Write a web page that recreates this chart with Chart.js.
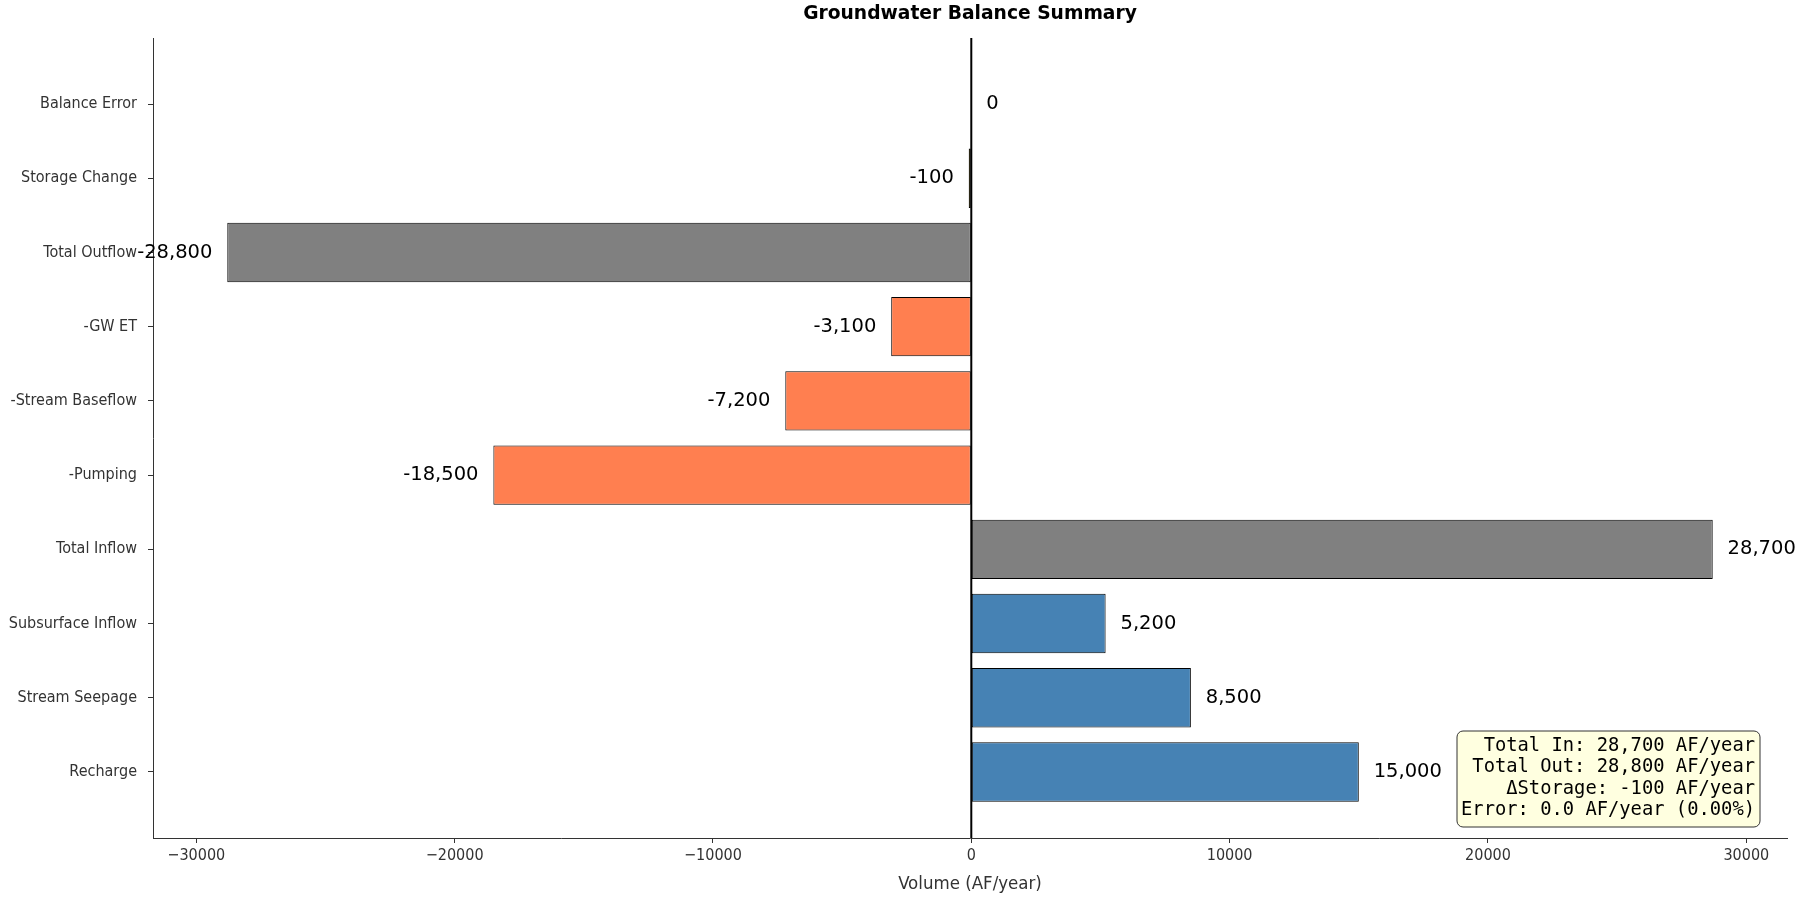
<!DOCTYPE html>
<html>
<head>
<meta charset="utf-8">
<title>Groundwater Balance Summary</title>
<script src="https://cdn.jsdelivr.net/npm/chart.js@4.4.1/dist/chart.umd.min.js"></script>
<style>
  html, body { margin: 0; padding: 0; background: #fff; }
  canvas { display: block; }
</style>
</head>
<body>
<canvas id="balanceChart" width="1800" height="900"></canvas>
<script>
// categories listed bottom -> top
const categories = ['Recharge', 'Stream Seepage', 'Subsurface Inflow', 'Total Inflow',
  '-Pumping', '-Stream Baseflow', '-GW ET', 'Total Outflow', 'Storage Change', 'Balance Error'];
const volumes = [15000, 8500, 5200, 28700, -18500, -7200, -3100, -28800, -100, 0];
const barColors = ['#4682B4', '#4682B4', '#4682B4', '#808080',
  '#FF7F50', '#FF7F50', '#FF7F50', '#808080', '#FFD700', '#2ca02c'];
const xTicks = [-30000, -20000, -10000, 0, 10000, 20000, 30000];
const summaryLines = [
  'Total In: 28,700 AF/year',
  'Total Out: 28,800 AF/year',
  '\u0394Storage: -100 AF/year',
  'Error: 0.0 AF/year (0.00%)'
];

const tickFont = { family: "'DejaVu Sans Condensed', 'DejaVu Sans'", size: 16 };

const fmt = v => Math.round(v).toLocaleString('en-US');

const extrasPlugin = {
  id: 'extras',
  afterDatasetsDraw(chart) {
    const { ctx, chartArea, scales } = chart;
    const x = scales.x, y = scales.y;
    ctx.save();

    // vertical zero line
    const x0 = x.getPixelForValue(0);
    ctx.strokeStyle = '#000';
    ctx.lineWidth = 2;
    ctx.beginPath();
    ctx.moveTo(x0, chartArea.top);
    ctx.lineTo(x0, chartArea.bottom);
    ctx.stroke();

    // value labels
    const offset = 576;
    ctx.fillStyle = '#000';
    ctx.font = "19.5px 'DejaVu Sans'";
    ctx.textBaseline = 'middle';
    volumes.forEach((v, i) => {
      const py = y.getPixelForValue(i);
      if (v >= 0) {
        ctx.textAlign = 'left';
        ctx.fillText(fmt(v), x.getPixelForValue(v + offset), py);
      } else {
        ctx.textAlign = 'right';
        ctx.fillText(fmt(v), x.getPixelForValue(v - offset), py);
      }
    });

    // summary box
    const bx = 1457, by = 731, bw = 303, bh = 96;
    ctx.beginPath();
    ctx.roundRect(bx, by, bw, bh, 6);
    ctx.fillStyle = '#FFFFE0';
    ctx.fill();
    ctx.strokeStyle = '#333';
    ctx.lineWidth = 1;
    ctx.stroke();
    ctx.fillStyle = '#000';
    ctx.font = "18.8px 'DejaVu Sans Mono'";
    ctx.textAlign = 'right';
    summaryLines.forEach((line, i) => {
      ctx.fillText(line, bx + bw - 5, by + 15 + i * 21.5);
    });

    // title and x label
    const cx = (chartArea.left + chartArea.right) / 2;
    ctx.textAlign = 'center';
    ctx.font = "bold 18.7px 'DejaVu Sans'";
    ctx.fillText('Groundwater Balance Summary', cx, 14);
    ctx.fillStyle = '#333';
    ctx.font = "18.5px 'DejaVu Sans Condensed', 'DejaVu Sans'";
    ctx.fillText('Volume (AF/year)', cx, 884);
    ctx.restore();
  }
};

new Chart(document.getElementById('balanceChart'), {
  type: 'bar',
  data: {
    datasets: [{
      data: volumes.map((v, i) => ({ x: v, y: i })),
      backgroundColor: barColors,
      borderColor: '#000',
      borderWidth: 1,
      borderSkipped: false,
      barPercentage: 0.8,
      categoryPercentage: 1.0
    }]
  },
  options: {
    indexAxis: 'y',
    responsive: false,
    animation: false,
    devicePixelRatio: 1,
    layout: { padding: { top: 38, right: 13, left: 0, bottom: 0 } },
    plugins: {
      legend: { display: false },
      tooltip: { enabled: false }
    },
    scales: {
      x: {
        type: 'linear',
        min: -31675,
        max: 31575,
        afterBuildTicks: axis => { axis.ticks = xTicks.map(v => ({ value: v })); },
        afterFit: axis => { axis.height = 62; },
        ticks: {
          color: '#333',
          font: tickFont,
          padding: 3,
          maxRotation: 0,
          callback: v => (v < 0 ? '\u2212' + Math.abs(v) : String(v))
        },
        grid: { drawOnChartArea: false, drawTicks: true, tickLength: 5, color: '#333' },
        border: { display: true, color: '#333', width: 1 }
      },
      y: {
        type: 'linear',
        offset: false,
        min: -0.89,
        max: 9.89,
        afterBuildTicks: axis => { axis.ticks = categories.map((c, i) => ({ value: i })); },
        afterFit: axis => { axis.width = 153; },
        ticks: {
          color: '#333',
          font: tickFont,
          padding: 11,
          callback: v => categories[v]
        },
        grid: { offset: false, drawOnChartArea: false, drawTicks: true, tickLength: 5, color: '#333' },
        border: { display: true, color: '#333', width: 1 }
      }
    }
  },
  plugins: [extrasPlugin]
});
</script>
</body>
</html>
